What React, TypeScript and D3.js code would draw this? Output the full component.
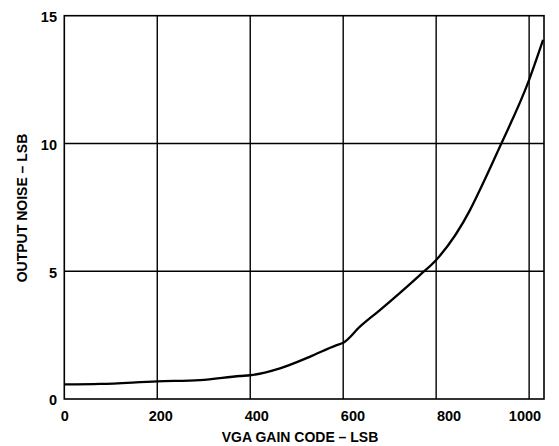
import React, { useEffect, useRef } from 'react';
import * as d3 from 'd3';

// curve (gain code vs noise)
const gainCodes = [0, 77, 200, 292, 378, 400, 464, 528, 586, 600, 636, 679, 765, 800, 873, 894, 937, 1000, 1030];
const noiseLsb = [0.57, 0.59, 0.69, 0.74, 0.9, 0.93, 1.2, 1.65, 2.11, 2.2, 2.83, 3.48, 4.85, 5.44, 7.4, 8.18, 9.87, 12.49, 14.05];

const xTicks = [0, 200, 400, 600, 800, 1000];
const yTicks = [0, 5, 10, 15];
const xGrid = [200, 400, 600, 800, 1000];
const yGrid = [5, 10];

const FONT = "'Liberation Sans', Arial, Helvetica, sans-serif";

const App: React.FC = () => {
  const ref = useRef<SVGSVGElement>(null);

  useEffect(() => {
    if (!ref.current) return;
    const svg = d3.select(ref.current);
    svg.selectAll('*').remove();

    const left = 64.3, right = 544, top = 15.7, bottom = 399;

    const x = d3.scaleLinear().domain([0, 1032]).range([left, right]);
    const y = d3.scaleLinear().domain([0, 15]).range([bottom, top]);
    // tick labels in the original sit a little off the grid lines
    const xLabel = d3.scaleLinear().domain([0, 800]).range([64.7, 449]);

    // grid
    svg.append('g')
      .selectAll('line')
      .data(xGrid)
      .enter()
      .append('line')
      .attr('x1', d => x(d))
      .attr('x2', d => x(d))
      .attr('y1', top)
      .attr('y2', bottom)
      .attr('stroke', '#000')
      .attr('stroke-width', 1.4);

    svg.append('g')
      .selectAll('line')
      .data(yGrid)
      .enter()
      .append('line')
      .attr('x1', left)
      .attr('x2', right)
      .attr('y1', d => y(d))
      .attr('y2', d => y(d))
      .attr('stroke', '#000')
      .attr('stroke-width', 1.4);

    // frame
    svg.append('rect')
      .attr('x', left)
      .attr('y', top)
      .attr('width', right - left)
      .attr('height', bottom - top)
      .attr('fill', 'none')
      .attr('stroke', '#000')
      .attr('stroke-width', 1.6);

    // curve
    const pts = gainCodes.map((c, i) => [c, noiseLsb[i]] as [number, number]);
    const line = d3.line<[number, number]>()
      .x(d => x(d[0]))
      .y(d => y(d[1]))
      .curve(d3.curveMonotoneX);

    svg.append('path')
      .datum(pts)
      .attr('d', line)
      .attr('fill', 'none')
      .attr('stroke', '#000')
      .attr('stroke-width', 2.3)
      .attr('stroke-linejoin', 'round');

    // x tick labels
    svg.append('g')
      .selectAll('text')
      .data(xTicks)
      .enter()
      .append('text')
      .attr('x', d => Math.min(xLabel(d), 525))
      .attr('y', 420.5)
      .attr('text-anchor', 'middle')
      .attr('font-family', FONT)
      .attr('font-weight', 'bold')
      .attr('font-size', '14.5px')
      .attr('fill', '#000')
      .text(d => String(d));

    // y tick labels
    svg.append('g')
      .selectAll('text')
      .data(yTicks)
      .enter()
      .append('text')
      .attr('x', 57)
      .attr('y', d => y(d) + 6.3)
      .attr('text-anchor', 'end')
      .attr('font-family', FONT)
      .attr('font-weight', 'bold')
      .attr('font-size', '14.5px')
      .attr('fill', '#000')
      .text(d => String(d));

    // axis titles
    svg.append('text')
      .attr('x', 300)
      .attr('y', 441.5)
      .attr('text-anchor', 'middle')
      .attr('font-family', FONT)
      .attr('font-weight', 'bold')
      .attr('font-size', '14px')
      .attr('fill', '#000')
      .text('VGA GAIN CODE – LSB');

    svg.append('text')
      .attr('transform', 'translate(26.5,208) rotate(-90)')
      .attr('text-anchor', 'middle')
      .attr('font-family', FONT)
      .attr('font-weight', 'bold')
      .attr('font-size', '14px')
      .attr('fill', '#000')
      .text('OUTPUT NOISE – LSB');
  }, []);

  return (
    <svg
      ref={ref}
      width={559}
      height={446}
      style={{ position: 'absolute', left: 0, top: 0, background: '#fff' }}
    />
  );
};

export default App;
